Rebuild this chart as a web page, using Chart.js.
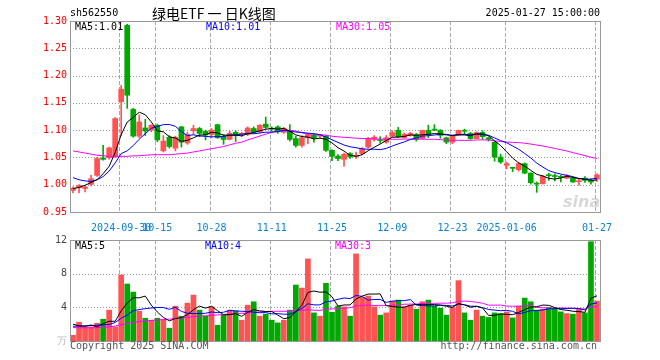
<!DOCTYPE html>
<html>
<head>
<meta charset="utf-8">
<script src="https://cdn.jsdelivr.net/npm/chart.js@4.4.1/dist/chart.umd.min.js"></script>
<style>
  body { margin: 0; background: #fff; width: 660px; height: 360px; position: relative; overflow: hidden;
         font-family: "DejaVu Sans Mono", monospace; font-size: 10px; }
  .t { position: absolute; white-space: pre; line-height: 12px; z-index: 2; }
  #kWrap { position: absolute; left: 0; top: 0; }
  #vWrap { position: absolute; left: 0; top: 230px; }
</style>
</head>
<body>
<div id="kWrap"><canvas id="kline" width="660" height="240"></canvas></div>
<div id="vWrap"><canvas id="volume" width="660" height="130"></canvas></div>

<div class="t" style="left:70px;top:7px;">sh562550</div>
<div class="t" style="left:152px;top:5px;font:14px/16px 'Noto Sans CJK SC',sans-serif;">绿电ETF 一 日K线图</div>
<div class="t" style="right:60px;top:7px;">2025-01-27 15:00:00</div>

<div class="t" style="left:75px;top:21px;color:#000;">MA5:1.01</div>
<div class="t" style="left:206px;top:21px;color:#0000ff;">MA10:1.01</div>
<div class="t" style="left:336px;top:21px;color:#ff00ff;">MA30:1.05</div>
<div class="t" style="left:563px;top:193px;font:italic bold 16px/18px 'DejaVu Sans',sans-serif;color:rgba(190,190,190,0.6);">sina</div>

<div class="t" style="left:75px;top:240px;color:#000;">MA5:5</div>
<div class="t" style="left:205px;top:240px;color:#0000ff;">MA10:4</div>
<div class="t" style="left:335px;top:240px;color:#ff00ff;">MA30:3</div>

<div class="t" style="left:70px;top:340px;color:#555;">Copyright 2025 SINA.COM</div>
<div class="t" style="right:63px;top:340px;color:#555;">http://finance.sina.com.cn</div>

<script>
// trading days shown on the chart
const tradeDays = [
    ['2024-09', [18, 19, 20, 23, 24, 25, 26, 27, 30]],
    ['2024-10', [8, 9, 10, 11, 14, 15, 16, 17, 18, 21, 22, 23, 24, 25, 28, 29, 30, 31]],
    ['2024-11', [1, 4, 5, 6, 7, 8, 11, 12, 13, 14, 15, 18, 19, 20, 21, 22, 25, 26, 27, 28, 29]],
    ['2024-12', [2, 3, 4, 5, 6, 9, 10, 11, 12, 13, 16, 17, 18, 19, 20, 23, 24, 25, 26, 27, 30, 31]],
    ['2025-01', [2, 3, 6, 7, 8, 9, 10, 13, 14, 15, 16, 17, 20, 21, 22, 23, 24, 27]]
];
const dates = [];
tradeDays.forEach(([m, ds]) => ds.forEach(d => dates.push(m + '-' + String(d).padStart(2, '0'))));

const tickDates = ['2024-09-30', '2024-10-15', '2024-10-28', '2024-11-11', '2024-11-25',
                   '2024-12-09', '2024-12-23', '2025-01-06', '2025-01-27'];
const tickText = ['2024-09-30', '10-15', '10-28', '11-11', '11-25', '12-09', '12-23', '2025-01-06', '01-27'];

const opens = [
    0.9895, 0.9945, 0.9930, 1.0005, 1.0170, 1.0490, 1.0496, 1.0507, 1.1520, 1.2920,
    1.1380, 1.0890, 1.1040, 1.1000, 1.1090, 1.0620, 1.0870, 1.0670, 1.1060, 1.0765,
    1.0990, 1.1030, 1.0980, 1.0920, 1.1100, 1.0890, 1.0830, 1.0960, 1.0920, 1.0920,
    1.1030, 1.0970, 1.1110, 1.1030, 1.1060, 1.0960, 1.0990, 1.0845, 1.0720, 1.0860,
    1.0910, 1.0890, 1.0890, 1.0630, 1.0526, 1.0465, 1.0570, 1.0520, 1.0570, 1.0690,
    1.0830, 1.0820, 1.0780, 1.0890, 1.0998, 1.0864, 1.0910, 1.0920, 1.0846, 1.0998,
    1.1010, 1.1000, 1.0860, 1.0780, 1.0906, 1.0990, 1.0940, 1.0846, 1.0956, 1.0860,
    1.0780, 1.0507, 1.0355, 1.0310, 1.0276, 1.0386, 1.0213, 1.0030, 1.0020, 1.0184,
    1.0160, 1.0145, 1.0120, 1.0120, 1.0055, 1.0120, 1.0080, 1.0100
];
const highs = [
    0.9960, 1.0004, 0.9990, 1.0170, 1.0500, 1.0720, 1.0690, 1.1230, 1.1820, 1.2940,
    1.1400, 1.1280, 1.1200, 1.1100, 1.1110, 1.0900, 1.0900, 1.0890, 1.1070, 1.0960,
    1.1090, 1.1050, 1.1000, 1.1030, 1.1110, 1.0920, 1.0980, 1.0990, 1.0960, 1.1060,
    1.1060, 1.1100, 1.1240, 1.1060, 1.1080, 1.1050, 1.1100, 1.0890, 1.0900, 1.0940,
    1.0930, 1.0920, 1.0910, 1.0640, 1.0550, 1.0580, 1.0590, 1.0600, 1.0680, 1.0870,
    1.0900, 1.0880, 1.0900, 1.0990, 1.1050, 1.0950, 1.0960, 1.0940, 1.1000, 1.1090,
    1.1100, 1.1010, 1.0870, 1.0910, 1.1000, 1.1020, 1.0960, 1.0970, 1.0990, 1.0880,
    1.0790, 1.0560, 1.0415, 1.0320, 1.0410, 1.0400, 1.0220, 1.0050, 1.0170, 1.0210,
    1.0200, 1.0170, 1.0185, 1.0140, 1.0100, 1.0150, 1.0110, 1.0200
];
const lows = [
    0.9850, 0.9850, 0.9870, 0.9980, 1.0150, 1.0450, 1.0470, 1.0500, 1.0900, 1.1400,
    1.0870, 1.0860, 1.0900, 1.0970, 1.0790, 1.0600, 1.0670, 1.0620, 1.0690, 1.0740,
    1.0920, 1.0880, 1.0820, 1.0860, 1.0850, 1.0740, 1.0820, 1.0790, 1.0880, 1.0900,
    1.0940, 1.0950, 1.1030, 1.0980, 1.0940, 1.0940, 1.0800, 1.0690, 1.0690, 1.0750,
    1.0780, 1.0860, 1.0610, 1.0440, 1.0440, 1.0340, 1.0480, 1.0480, 1.0550, 1.0670,
    1.0800, 1.0760, 1.0760, 1.0880, 1.0860, 1.0850, 1.0890, 1.0800, 1.0840, 1.0860,
    1.0990, 1.0850, 1.0750, 1.0750, 1.0900, 1.0920, 1.0830, 1.0840, 1.0830, 1.0800,
    1.0430, 1.0390, 1.0290, 1.0240, 1.0250, 1.0200, 1.0010, 0.9860, 1.0010, 1.0080,
    1.0070, 1.0050, 1.0110, 1.0040, 0.9990, 1.0040, 1.0010, 1.0060
];
const closes = [
    0.9938, 0.9987, 0.9960, 1.0110, 1.0480, 1.0465, 1.0675, 1.1213, 1.1750, 1.1640,
    1.0890, 1.1150, 1.0985, 1.1090, 1.0820, 1.0800, 1.0700, 1.0870, 1.0780, 1.0920,
    1.1030, 1.0940, 1.0910, 1.1000, 1.0860, 1.0830, 1.0940, 1.0910, 1.0940, 1.1040,
    1.0960, 1.1090, 1.1050, 1.1020, 1.0970, 1.1030, 1.0830, 1.0720, 1.0860, 1.0920,
    1.0860, 1.0900, 1.0630, 1.0520, 1.0480, 1.0557, 1.0507, 1.0540, 1.0660, 1.0846,
    1.0870, 1.0810, 1.0860, 1.0956, 1.0875, 1.0925, 1.0940, 1.0830, 1.0998, 1.0920,
    1.1000, 1.0906, 1.0780, 1.0890, 1.0998, 1.0980, 1.0845, 1.0956, 1.0880, 1.0830,
    1.0507, 1.0416, 1.0386, 1.0300, 1.0386, 1.0213, 1.0037, 1.0010, 1.0158, 1.0165,
    1.0150, 1.0135, 1.0165, 1.0050, 1.0065, 1.0080, 1.0050, 1.0180
];
// volume, in 万 (10k) lots
const volumes = [
    0.68, 2.23, 1.68, 1.68, 2.11, 2.59, 3.67, 1.68, 7.84, 6.77,
    5.81, 3.55, 2.71, 2.47, 2.71, 2.55, 1.52, 4.14, 2.95, 4.50,
    5.46, 3.67, 2.95, 4.06, 1.87, 3.07, 3.67, 3.58, 2.47, 4.26,
    4.66, 2.95, 3.19, 2.47, 2.15, 2.47, 3.67, 6.65, 6.29, 9.75,
    3.34, 2.95, 6.85, 3.42, 4.14, 4.06, 2.95, 10.35, 5.18, 5.34,
    4.06, 3.07, 3.34, 4.74, 4.86, 4.06, 4.22, 3.78, 4.66, 4.86,
    4.14, 3.90, 3.07, 3.98, 7.17, 3.34, 2.47, 3.67, 2.95, 2.80,
    3.34, 3.26, 3.46, 2.75, 4.14, 5.10, 4.66, 3.67, 3.78, 3.98,
    3.78, 3.46, 3.26, 3.19, 3.78, 3.34, 11.80, 4.74
];

// MA values for the first days (window reaches before the shown range)
const ma5Head = [0.993, 0.995, 0.999, 1.004];
const ma10Head = [1.013, 1.009, 1.007, 1.006, 1.009, 1.015, 1.025, 1.040, 1.057];
const ma30Head = [1.062, 1.060, 1.058, 1.056, 1.054, 1.053, 1.052, 1.052, 1.052, 1.052,
                  1.053, 1.053, 1.054, 1.055, 1.055, 1.055, 1.055, 1.056, 1.057, 1.058,
                  1.060, 1.062, 1.064, 1.066, 1.068, 1.070, 1.073, 1.076, 1.078];
const volMa5Head = [2.0, 1.8, 1.75, 1.9];
const volMa10Head = [1.75, 1.78, 1.8, 1.84, 1.88, 1.92, 1.96, 2.2, 2.7];
const volMa30Head = [1.6, 1.58, 1.56, 1.56, 1.58, 1.62, 1.67, 1.78, 1.95, 2.1,
                     2.2, 2.3, 2.4, 2.45, 2.5, 2.55, 2.6, 2.65, 2.7, 2.8,
                     2.9, 2.95, 3.0, 3.05, 3.1, 3.15, 3.2, 3.25, 3.3];

function movingAvg(src, n, head) {
    return src.map((v, i) => {
        if (i < n - 1) return head[i];
        let s = 0;
        for (let k = i - n + 1; k <= i; k++) s += src[k];
        return s / n;
    });
}

const tickIdx = tickDates.map(d => dates.indexOf(d));
const upColor = '#ff5252';
const downColor = '#00a800';
const barColors = closes.map((c, i) => c >= opens[i] ? upColor : downColor);

Chart.defaults.font.family = '"DejaVu Sans Mono", monospace';
Chart.defaults.font.size = 10;
Chart.defaults.animation = false;

// dashed date lines, dotted value lines and the grey box
const frame = {
    id: 'frame',
    beforeDatasetsDraw(chart) {
        const { ctx, chartArea: a, scales: { x, y } } = chart;
        ctx.save();
        ctx.lineWidth = 1;
        ctx.strokeStyle = '#aaaaaa';
        ctx.setLineDash([4, 2]);
        tickIdx.forEach(i => {
            const px = Math.round(x.getPixelForValue(i)) - 1.5;
            ctx.beginPath();
            ctx.moveTo(px, a.top);
            ctx.lineTo(px, a.bottom);
            ctx.stroke();
        });
        ctx.setLineDash([1, 2]);
        ctx.strokeStyle = '#999999';
        y.ticks.forEach(t => {
            if (t.value <= y.min + 1e-9 || t.value >= y.max - 1e-9) return;
            const py = Math.round(y.getPixelForValue(t.value)) + 0.5;
            ctx.beginPath();
            ctx.moveTo(a.left, py);
            ctx.lineTo(a.right, py);
            ctx.stroke();
        });
        ctx.restore();
    },
    afterDraw(chart) {
        const { ctx, chartArea: a } = chart;
        ctx.save();
        ctx.strokeStyle = '#999999';
        ctx.lineWidth = 1;
        ctx.strokeRect(Math.round(a.left) + 0.5, Math.round(a.top) + 0.5,
                       Math.round(a.right - a.left), Math.round(a.bottom - a.top));
        ctx.restore();
    }
};

function maLine(label, data, color) {
    return { type: 'line', label, data, borderColor: color, borderWidth: 1,
             pointRadius: 0, tension: 0, order: 0 };
}

new Chart(document.getElementById('kline'), {
    type: 'bar',
    data: {
        labels: dates,
        datasets: [
            maLine('MA5', movingAvg(closes, 5, ma5Head), '#000000'),
            maLine('MA10', movingAvg(closes, 10, ma10Head), '#0000ff'),
            maLine('MA30', movingAvg(closes, 30, ma30Head), '#ff00ff'),
            {
                label: 'body',
                data: opens.map((o, i) => [Math.min(o, closes[i]), Math.max(o, closes[i])]),
                backgroundColor: barColors,
                barThickness: 5,
                minBarLength: 1,
                grouped: false,
                order: 1
            },
            {
                label: 'wick',
                data: lows.map((l, i) => [l, highs[i]]),
                backgroundColor: barColors,
                barThickness: 1,
                grouped: false,
                order: 2
            }
        ]
    },
    options: {
        responsive: false,
        animation: false,
        layout: { padding: { left: 0, right: 60, top: 21, bottom: 0 } },
        plugins: { legend: { display: false }, tooltip: { enabled: false } },
        scales: {
            x: {
                offset: true,
                grid: { display: false, drawTicks: false },
                border: { display: false },
                afterBuildTicks: axis => { axis.ticks = tickIdx.map(v => ({ value: v })); },
                afterFit: axis => { axis.height = 28; },
                ticks: {
                    autoSkip: false, maxRotation: 0, minRotation: 0,
                    color: '#0a82d2', padding: 10,
                    callback: (v, k) => tickText[k]
                }
            },
            y: {
                min: 0.95, max: 1.30,
                grid: { display: false, drawTicks: false },
                border: { display: false },
                afterFit: axis => { axis.width = 70; },
                ticks: { stepSize: 0.05, color: '#ff0000', padding: 3, callback: v => v.toFixed(2) }
            }
        }
    },
    plugins: [frame]
});

new Chart(document.getElementById('volume'), {
    type: 'bar',
    data: {
        labels: dates,
        datasets: [
            maLine('MA5', movingAvg(volumes, 5, volMa5Head), '#000000'),
            maLine('MA10', movingAvg(volumes, 10, volMa10Head), '#0000ff'),
            maLine('MA30', movingAvg(volumes, 30, volMa30Head), '#ff00ff'),
            {
                label: 'volume',
                data: volumes,
                backgroundColor: barColors,
                barThickness: 5,
                grouped: false,
                order: 1
            }
        ]
    },
    options: {
        responsive: false,
        animation: false,
        layout: { padding: { left: 0, right: 60, top: 10, bottom: 19 } },
        plugins: { legend: { display: false }, tooltip: { enabled: false } },
        scales: {
            x: { display: false, offset: true },
            y: {
                min: 0, max: 12,
                grid: { display: false, drawTicks: false },
                border: { display: false },
                afterFit: axis => { axis.width = 70; },
                ticks: {
                    stepSize: 4, padding: 3,
                    color: ctx => ctx.tick.value === 0 ? '#bbbbbb' : '#444444',
                    callback: v => v === 0 ? '万' : v
                }
            }
        }
    },
    plugins: [frame]
});
</script>
</body>
</html>
